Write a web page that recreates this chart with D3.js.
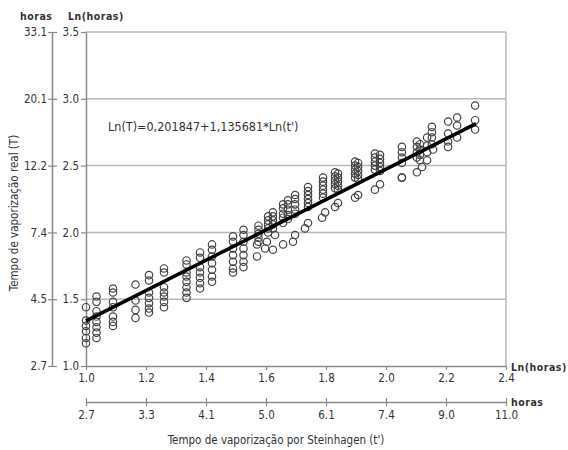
<!DOCTYPE html>
<html>
<head>
<meta charset="utf-8">
<script src="https://cdn.jsdelivr.net/npm/d3@7"></script>
<style>
  body { margin: 0; background: #fff; }
  text { font-family: "DejaVu Sans Condensed", "DejaVu Sans", sans-serif; fill: #333; }
</style>
</head>
<body>
<script>
// ---------- data ----------
// tick values in Ln(horas) and the matching labels in horas
const lnTicksY = [1.0, 1.5, 2.0, 2.5, 3.0, 3.5];
const hoursLabelsY = ["2.7", "4.5", "7.4", "12.2", "20.1", "33.1"];
const lnTicksX = [1.0, 1.2, 1.4, 1.6, 1.8, 2.0, 2.2, 2.4];
const hoursLabelsX = ["2.7", "3.3", "4.1", "5.0", "6.1", "7.4", "9.0", "11.0"];

// observed points, grouped by column: Ln(t') and the Ln(T) values in it
const columnX = [1.00, 1.035, 1.09, 1.165, 1.21, 1.26, 1.335, 1.38, 1.42, 1.49, 1.525,
  1.575, 1.607, 1.623, 1.657, 1.673, 1.697, 1.74, 1.79, 1.83, 1.84, 1.897, 1.907,
  1.963, 1.98, 2.053, 2.103, 2.113, 2.137, 2.153, 2.207, 2.237, 2.297];
const columnLnT = [
  [1.44, 1.34, 1.30, 1.26, 1.21, 1.17],
  [1.52, 1.48, 1.41, 1.37, 1.33, 1.29, 1.25, 1.21],
  [1.58, 1.55, 1.48, 1.44, 1.37, 1.33, 1.30],
  [1.61, 1.49, 1.42, 1.36],
  [1.68, 1.64, 1.55, 1.51, 1.47, 1.43, 1.40],
  [1.73, 1.70, 1.59, 1.55, 1.52, 1.48, 1.44],
  [1.79, 1.76, 1.70, 1.67, 1.63, 1.59, 1.55, 1.51],
  [1.85, 1.81, 1.74, 1.70, 1.66, 1.62, 1.58],
  [1.91, 1.87, 1.82, 1.77, 1.72, 1.67, 1.63],
  [1.97, 1.93, 1.88, 1.83, 1.78, 1.73, 1.70],
  [2.02, 1.98, 1.93, 1.88, 1.83, 1.78, 1.74],
  [2.05, 2.02, 1.99, 1.96, 1.93],
  [2.12, 2.09, 2.06, 2.03, 2.00],
  [2.15, 2.12, 2.09, 2.06, 2.03],
  [2.21, 2.18, 2.14, 2.11, 2.07],
  [2.24, 2.21, 2.17, 2.13, 2.10],
  [2.28, 2.25, 2.21, 2.17, 2.14],
  [2.34, 2.31, 2.28, 2.25, 2.22, 2.19],
  [2.41, 2.38, 2.35, 2.32, 2.29, 2.26],
  [2.45, 2.42, 2.39, 2.36, 2.33],
  [2.44, 2.41, 2.38, 2.35, 2.32],
  [2.53, 2.50, 2.47, 2.44, 2.41],
  [2.52, 2.49, 2.46, 2.43, 2.40],
  [2.59, 2.56, 2.53, 2.50, 2.47],
  [2.58, 2.55, 2.52, 2.49, 2.46],
  [2.64, 2.60, 2.56, 2.52, 2.41],
  [2.68, 2.64, 2.60, 2.56],
  [2.66, 2.62, 2.58, 2.54],
  [2.71, 2.65, 2.60],
  [2.79, 2.75, 2.71, 2.66],
  [2.83, 2.74, 2.68, 2.64],
  [2.86, 2.80, 2.71],
  [2.95, 2.84, 2.77]
];

// the lower band of points below the fitted line
const offsetX = [1.570, 1.570, 1.597, 1.603, 1.623, 1.630, 1.657, 1.690, 1.697, 1.730, 1.740,
  1.787, 1.797, 1.830, 1.840, 1.897, 1.907, 1.963, 1.980, 2.053, 2.103, 2.120, 2.137, 2.157];
const offsetLnT = [1.82, 1.91, 1.88, 1.93, 1.87, 1.98, 1.91, 1.93, 1.98, 2.03, 2.07,
  2.11, 2.15, 2.19, 2.22, 2.26, 2.28, 2.32, 2.36, 2.41, 2.45, 2.49, 2.54, 2.62];

// regression Ln(T) = a + b*Ln(t')
const intercept = 0.201847;
const slope = 1.135681;
const fitRange = [1.0, 2.3];

// ---------- chart ----------
const W = 568, H = 450;
const plot = { left: 86, right: 506, top: 32, bottom: 366 };
const gridColor = "#b8b8b8", axisColor = "#8a8a8a";

const svg = d3.select("body").append("svg")
  .attr("width", W)
  .attr("height", H);

const x = d3.scaleLinear().domain([1.0, 2.4]).range([plot.left, plot.right]);
const y = d3.scaleLinear().domain([1.0, 3.5]).range([plot.bottom, plot.top]);

// grid lines + frame
svg.append("g").selectAll("line")
  .data(lnTicksY.slice(1))
  .enter().append("line")
  .attr("x1", plot.left).attr("x2", plot.right)
  .attr("y1", d => y(d)).attr("y2", d => y(d))
  .attr("stroke", gridColor).attr("stroke-width", 1.5);

svg.append("line")
  .attr("x1", plot.right).attr("x2", plot.right)
  .attr("y1", plot.top).attr("y2", plot.bottom)
  .attr("stroke", gridColor).attr("stroke-width", 1.5);

function styleAxis(g) {
  g.select(".domain").attr("stroke", axisColor).attr("stroke-width", 1.5);
  g.selectAll(".tick line").attr("stroke", axisColor).attr("stroke-width", 1.2);
  g.selectAll("text").attr("font-size", 11.5).attr("fill", "#333");
}

// Ln(horas) axis on the left
svg.append("g")
  .attr("transform", `translate(${plot.left},0)`)
  .call(d3.axisLeft(y).tickValues(lnTicksY).tickSize(5).tickSizeOuter(0)
    .tickPadding(2).tickFormat(d3.format(".1f")))
  .call(styleAxis);

// horas axis on the far left
svg.append("g")
  .attr("transform", "translate(52,0)")
  .call(d3.axisLeft(y).tickValues(lnTicksY).tickSize(4).tickSizeOuter(0)
    .tickPadding(1).tickFormat((d, i) => hoursLabelsY[i]))
  .call(styleAxis)
  .call(g => g.selectAll(".tick line").attr("x1", 5));

// Ln(horas) axis at the bottom
svg.append("g")
  .attr("transform", `translate(0,${plot.bottom})`)
  .call(d3.axisBottom(x).tickValues(lnTicksX).tickSize(4).tickSizeOuter(0)
    .tickPadding(4).tickFormat(d3.format(".1f")))
  .call(styleAxis);

// horas axis below it
svg.append("g")
  .attr("transform", "translate(0,402)")
  .call(d3.axisBottom(x).tickValues(lnTicksX).tickSize(4).tickSizeOuter(0)
    .tickPadding(5).tickFormat((d, i) => hoursLabelsX[i]))
  .call(styleAxis)
  .call(g => g.selectAll(".tick line").attr("y1", -4));

// unit labels
const unitStyle = t => t.attr("font-size", 10.5).attr("font-weight", "bold")
  .attr("letter-spacing", 0.5).attr("fill", "#444");
svg.append("text").attr("x", 20).attr("y", 20).text("horas").call(unitStyle);
svg.append("text").attr("x", 68).attr("y", 20).text("Ln(horas)").call(unitStyle);
svg.append("text").attr("x", 511).attr("y", 371).text("Ln(horas)").call(unitStyle);
svg.append("text").attr("x", 511).attr("y", 406).text("horas").call(unitStyle);

// titles
svg.append("text")
  .attr("transform", "translate(18,213) rotate(-90)")
  .attr("text-anchor", "middle")
  .attr("font-size", 11.5)
  .text("Tempo de vaporização real (T)");

svg.append("text")
  .attr("x", 276).attr("y", 444)
  .attr("text-anchor", "middle")
  .attr("font-size", 11.5)
  .text("Tempo de vaporização por Steinhagen (t')");

// points
const points = [];
columnX.forEach((cx, i) => columnLnT[i].forEach(v => points.push([cx, v])));
offsetX.forEach((ox, i) => points.push([ox, offsetLnT[i]]));

svg.append("g").selectAll("circle")
  .data(points)
  .enter().append("circle")
  .attr("cx", d => x(d[0]))
  .attr("cy", d => y(d[1]))
  .attr("r", 3.7)
  .attr("fill", "none")
  .attr("stroke", "#444")
  .attr("stroke-width", 1.2);

// fitted line
const line = d3.line().x(d => x(d)).y(d => y(intercept + slope * d));
svg.append("path")
  .datum(fitRange)
  .attr("d", line)
  .attr("stroke", "#000")
  .attr("stroke-width", 3.5)
  .attr("fill", "none");

svg.append("text")
  .attr("x", 108).attr("y", 131)
  .attr("font-size", 12.5)
  .attr("fill", "#111")
  .text("Ln(T)=0,201847+1,135681*Ln(t')");
</script>
</body>
</html>
